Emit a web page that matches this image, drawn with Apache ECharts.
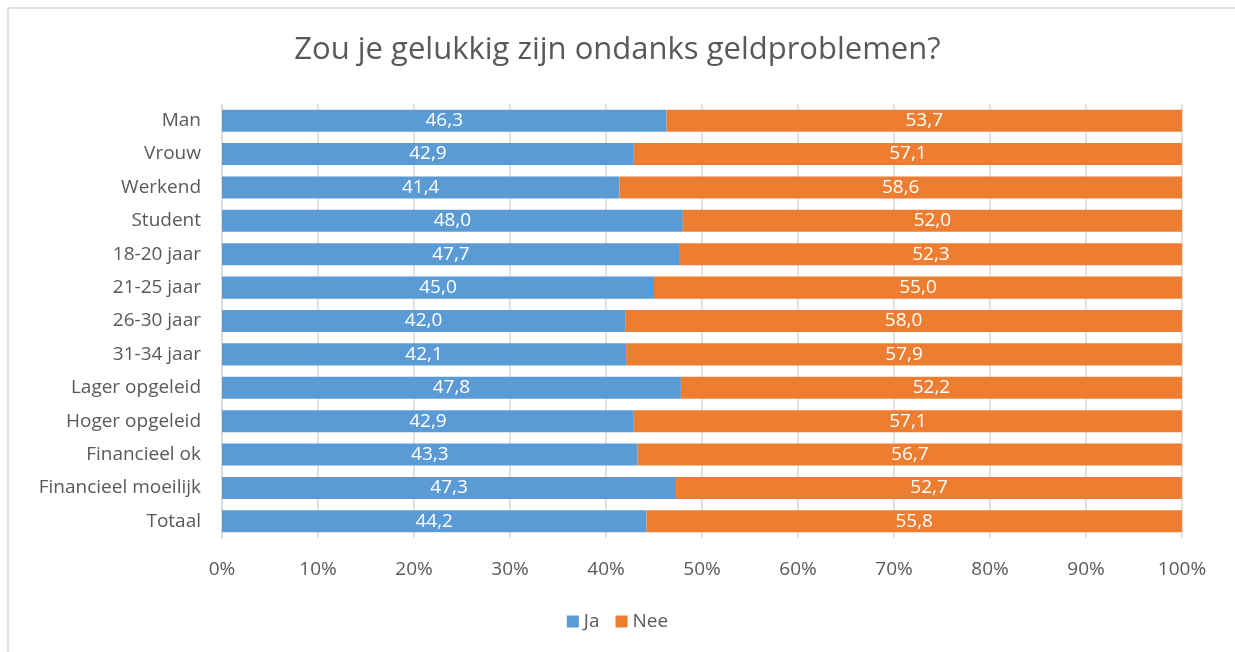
<!DOCTYPE html>
<html>
<head>
<meta charset="utf-8">
<script src="https://cdn.jsdelivr.net/npm/echarts@6/dist/echarts.min.js"></script>
<style>
    html, body { margin: 0; padding: 0; background: #fff; }
    #chart { width: 1235px; height: 652px; }
</style>
</head>
<body>
<div id="chart"></div>
<script>
// categories top to bottom
var categories = ['Man', 'Vrouw', 'Werkend', 'Student', '18-20 jaar', '21-25 jaar', '26-30 jaar',
    '31-34 jaar', 'Lager opgeleid', 'Hoger opgeleid', 'Financieel ok', 'Financieel moeilijk', 'Totaal'];
var jaValues = [46.3, 42.9, 41.4, 48.0, 47.7, 45.0, 42.0, 42.1, 47.8, 42.9, 43.3, 47.3, 44.2];
var neeValues = [53.7, 57.1, 58.6, 52.0, 52.3, 55.0, 58.0, 57.9, 52.2, 57.1, 56.7, 52.7, 55.8];
var seriesNames = ['Ja', 'Nee'];
var colors = ['#5b9bd5', '#ed7d31'];

var fontName = '"Open Sans", sans-serif';
var myChart = echarts.init(document.getElementById('chart'));

function makeSeries(idx, values) {
    return {
        name: seriesNames[idx],
        type: 'bar',
        stack: 'total',
        barCategoryGap: '34%',
        itemStyle: { color: colors[idx] },
        label: {
            show: true,
            position: 'inside',
            color: '#fff',
            fontFamily: fontName,
            fontSize: 19,
            formatter: function(p) {
                return p.value.toFixed(1).replace('.', ',');
            }
        },
        data: values
    };
}

var option = {
    animation: false,
    textStyle: { fontFamily: fontName },
    title: {
        text: 'Zou je gelukkig zijn ondanks geldproblemen?',
        left: 'center',
        top: 30,
        textStyle: { color: '#595959', fontSize: 31, fontWeight: 'normal', fontFamily: fontName }
    },
    legend: {
        data: seriesNames,
        bottom: 16,
        left: 'center',
        icon: 'rect',
        itemWidth: 12,
        itemHeight: 12,
        itemGap: 16,
        textStyle: { color: '#595959', fontSize: 19, fontFamily: fontName }
    },
    grid: {
        left: 222,
        right: 53,
        top: 104,
        bottom: 114
    },
    xAxis: {
        type: 'value',
        min: 0,
        max: 100,
        interval: 10,
        axisLabel: {
            color: '#595959',
            fontSize: 19,
            margin: 22,
            formatter: '{value}%'
        },
        axisLine: { show: false },
        axisTick: { show: false },
        splitLine: { lineStyle: { color: '#d9d9d9', width: 1.5 } }
    },
    yAxis: {
        type: 'category',
        data: categories,
        inverse: true,
        axisLabel: { color: '#595959', fontSize: 19, margin: 21 },
        axisLine: { show: true, lineStyle: { color: '#d9d9d9', width: 1.5 } },
        axisTick: { show: false }
    },
    graphic: [{
        type: 'rect',
        shape: { x: 8, y: 8, width: 1240, height: 660 },
        style: { fill: null, stroke: '#d9d9d9', lineWidth: 1.5 },
        silent: true
    }],
    series: [makeSeries(0, jaValues), makeSeries(1, neeValues)]
};

myChart.setOption(option);
</script>
</body>
</html>
